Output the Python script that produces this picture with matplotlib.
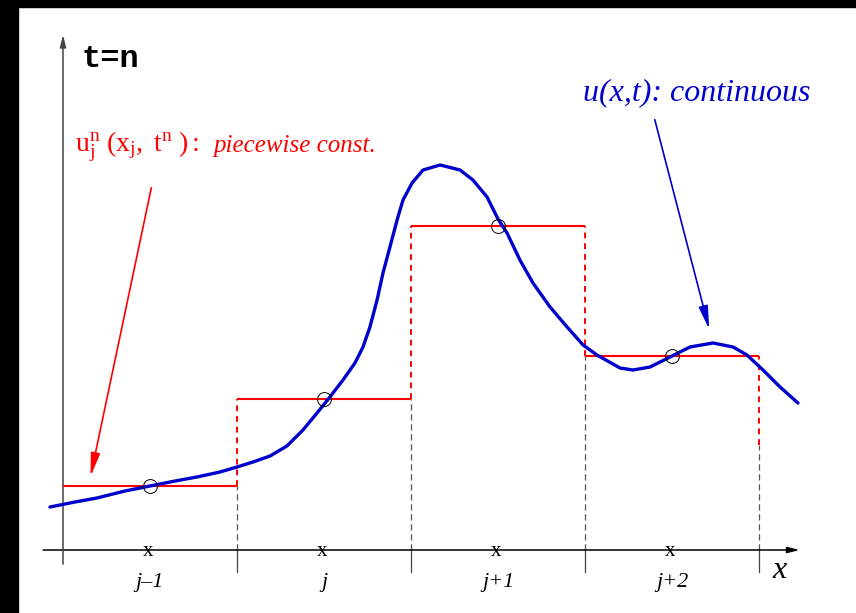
import numpy as np
import matplotlib.pyplot as plt
from matplotlib.patches import Rectangle

plt.rcParams['mathtext.fontset'] = 'custom'
plt.rcParams['mathtext.rm'] = 'Liberation Serif'
plt.rcParams['mathtext.it'] = 'Liberation Serif:italic'

# cells j-1 .. j+2, edges in cell units
cell_labels = ["j\u20131", "j", "j+1", "j+2"]
cell_edges = [0, 1, 2, 3, 4]
cell_centers = [0.5, 1.5, 2.5, 3.5]
cell_values = [0.64, 1.51, 3.24, 1.94]  # piecewise constant u_j^n
next_value = 1.05  # level of the cell to the right of j+2 (only its edge shows)

# continuous u(x,t)
curve_x = [-0.075, 0.069, 0.195, 0.356, 0.5, 0.644, 0.770, 0.902, 1.0, 1.092,
           1.190, 1.287, 1.379, 1.460, 1.534, 1.609, 1.678, 1.724, 1.764, 1.805,
           1.839, 1.879, 1.920, 1.954, 2.006, 2.069, 2.167, 2.282, 2.356, 2.437,
           2.5, 2.552, 2.626, 2.701, 2.799, 2.897, 2.989, 3.069, 3.201, 3.276,
           3.374, 3.489, 3.603, 3.736, 3.851, 3.931, 4.023, 4.121, 4.224]
curve_y = [0.43, 0.48, 0.52, 0.59, 0.64, 0.69, 0.73, 0.78, 0.83, 0.88,
           0.94, 1.04, 1.20, 1.37, 1.53, 1.70, 1.87, 2.03, 2.23, 2.50,
           2.77, 3.03, 3.30, 3.50, 3.67, 3.80, 3.85, 3.80, 3.70, 3.53,
           3.31, 3.17, 2.90, 2.67, 2.43, 2.23, 2.05, 1.95, 1.82, 1.80,
           1.83, 1.93, 2.03, 2.07, 2.03, 1.95, 1.80, 1.63, 1.47]

red = "#ff0000"
blue = "#0000cc"

fig = plt.figure(figsize=(8.56, 6.13), dpi=100)
ax = fig.add_axes([0, 0, 1, 1])
ax.set_xlim(-63 / 174, 793 / 174)
ax.set_ylim(-0.63, 5.50)
ax.axis("off")

# black frame strips at top and left
fig.patches.append(Rectangle((0, 606 / 613), 1, 7 / 613, transform=fig.transFigure,
                             color="black", zorder=10))
fig.patches.append(Rectangle((0, 0), 18 / 856, 1, transform=fig.transFigure,
                             color="black", zorder=10))

# axes with arrows
ax.annotate("", xy=(4.25, 0), xytext=(-0.13, 0),
            arrowprops=dict(arrowstyle="-|>,head_length=0.6,head_width=0.15",
                            mutation_scale=12, lw=1.1, color="black"))
ax.annotate("", xy=(0, 5.18), xytext=(0, -0.17),
            arrowprops=dict(arrowstyle="-|>,head_length=0.6,head_width=0.15",
                            mutation_scale=12, lw=1.1, color="#444444"))

# cell edges: tick below axis, grey dashed up to lower level, red dashed between levels
for i, e in enumerate(cell_edges):
    if i == 0:
        continue
    left = cell_values[i - 1]
    right = cell_values[i] if i < len(cell_values) else next_value
    lo, hi = min(left, right), max(left, right)
    ax.plot([e, e], [-0.22, 0], color="#444444", lw=0.9)
    ax.plot([e, e], [0, lo], color="#555555", lw=0.9, ls=(0, (5, 3)))
    ax.plot([e, e], [lo, hi], color=red, lw=1.4, ls=(0, (3, 2.5)))

# piecewise constant levels
ax.hlines(cell_values, cell_edges[:-1], cell_edges[1:], color=red, lw=1.5, zorder=3)

# continuous solution
ax.plot(curve_x, curve_y, color=blue, lw=2.4, zorder=4,
        solid_capstyle="round", solid_joinstyle="round")

# sample points
ax.plot(cell_centers, cell_values, "o", ms=10, mfc="none", mec="black", mew=0.7, zorder=5)

# cell labels and cell-center marks
for c, lab in zip(cell_centers, cell_labels):
    ax.text(c - 0.01, -0.01, "x", ha="center", va="center", fontsize=15,
            family="Liberation Serif")
    ax.text(c, -0.32, lab, ha="center", va="center", fontsize=16,
            family="Liberation Serif", style="italic")
ax.text(4.12, -0.20, "x", ha="center", va="center", fontsize=23,
        family="Liberation Serif", style="italic")

ax.text(0.105, 4.91, "t=n", ha="left", va="center", fontsize=23,
        family="Liberation Mono", weight="bold")

# red annotation
ax.text(0.069, 3.98, r"$\mathrm{u^n_j\ (x_j,\ t^n\ ):}$", ha="left", va="baseline",
        fontsize=20, color=red)
ax.text(0.862, 3.98, "piecewise const.", ha="left", va="baseline", fontsize=18,
        family="Liberation Serif", style="italic", color=red)
ax.annotate("", xy=(0.155, 0.71), xytext=(0.511, 3.65),
            arrowprops=dict(arrowstyle="-|>,head_length=1.0,head_width=0.2",
                            mutation_scale=14, lw=1.2, color=red))

# blue annotation
ax.text(2.989, 4.50, "u(x,t): continuous", ha="left", va="baseline", fontsize=23,
        family="Liberation Serif", style="italic", color=blue)
ax.annotate("", xy=(3.718, 2.18), xytext=(3.397, 4.33),
            arrowprops=dict(arrowstyle="-|>,head_length=1.0,head_width=0.2",
                            mutation_scale=14, lw=1.2, color=blue))

fig.savefig("out.png", dpi=100)
